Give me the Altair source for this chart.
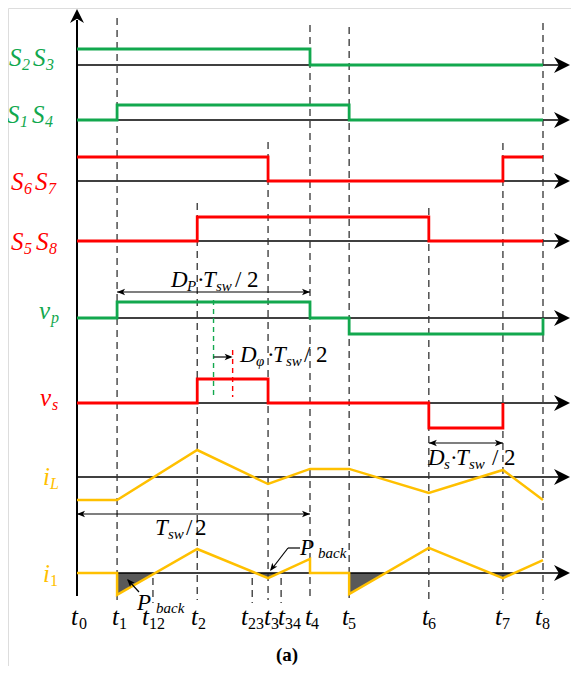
import altair as alt
import pandas as pd

# ---------------- data ----------------
TIME_NAMES = ["t0", "t1", "t12", "t2", "t23", "t3", "t34", "t4", "t5", "t6", "t7", "t8"]
TIME_VALUES = [0.0, 8.6, 16.3, 25.8, 37.6, 41.0, 43.8, 50.0, 58.4, 75.5, 91.4, 100.0]  # % of Tsw
TIME_SUBS = ["0", "1", "12", "2", "23", "3", "34", "4", "5", "6", "7", "8"]

S23_T = ["t0", "t4", "t8"]
S23_LEVEL = [1, 0, 0]
S14_T = ["t0", "t1", "t5", "t8"]
S14_LEVEL = [0, 1, 0, 0]
S67_T = ["t0", "t3", "t7", "t8"]
S67_LEVEL = [1, 0, 1, 1]
S58_T = ["t0", "t2", "t6", "t8"]
S58_LEVEL = [0, 1, 0, 0]
VP_T = ["t0", "t1", "t4", "t5", "t8", "t8"]
VP_LEVEL = [0, 1, 0, -1, -1, 0]
VS_T = ["t0", "t2", "t3", "t6", "t7"]
VS_LEVEL = [0, 1, 0, -1, 0]

IL_T = ["t0", "t1", "t2", "t3", "t4", "t5", "t6", "t7", "t8"]
IL_VALUE = [-0.85, -0.85, 1.00, -0.26, 0.30, 0.30, -0.59, 0.26, -0.85]
I1_T = ["t0", "t1", "t1", "t2", "t3", "t4", "t4", "t5", "t5", "t6", "t7", "t8"]
I1_VALUE = [0, 0, -0.81, 0.89, -0.19, 0.52, 0, 0, -0.78, 0.93, -0.19, 0.48]

# back-flow (P_back) regions of i1
BACK_T = [[8.6, 16.8], [38.3, 41.0, 43.4], [58.4, 66.2], [88.7, 91.4, 93.8]]
BACK_V = [[-0.81, 0], [0, -0.19, 0], [-0.78, 0], [0, -0.19, 0]]

ROW_LABELS = [("S", "2", "S", "3"), ("S", "1", "S", "4"), ("S", "6", "S", "7"), ("S", "5", "S", "8")]

# ---------------- style / layout ----------------
GREEN = "#12A84E"
RED = "#FF0000"
ORANGE = "#FFC000"
INK = "#000000"
DASHC = "#333333"
FONT = "'Liberation Serif', 'Times New Roman', 'DejaVu Serif', serif"

PX0 = 77.0
PX_PER_T = 4.66


def px2t(px):
    return (px - PX0) / PX_PER_T


def tv(name):
    return TIME_VALUES[TIME_NAMES.index(name)]


X_DOMAIN = [px2t(8), px2t(571)]
W, H = 563, 658

ROWS = {
    "S23": dict(base=65, up=16, dn=16, color=GREEN),
    "S14": dict(base=120, up=15, dn=15, color=GREEN),
    "S67": dict(base=181, up=24, dn=24, color=RED),
    "S58": dict(base=241, up=24, dn=24, color=RED),
    "VP": dict(base=318, up=16, dn=16, color=GREEN),
    "VS": dict(base=403, up=24, dn=25, color=RED),
    "IL": dict(base=477, gain=27, color=ORANGE),
    "I1": dict(base=573, gain=27, color=ORANGE),
}

xs = alt.Scale(domain=X_DOMAIN, range=[0, W], zero=False, nice=False)
ys = alt.Scale(domain=[8, 8 + H], range=[0, H], zero=False, nice=False)


def X(f="t"):
    return alt.X(f + ":Q", scale=xs, axis=None)


def Y(f="y"):
    return alt.Y(f + ":Q", scale=ys, axis=None)


# ---- signals ----
sig = []
for key, names, levels in [("S23", S23_T, S23_LEVEL), ("S14", S14_T, S14_LEVEL),
                           ("S67", S67_T, S67_LEVEL), ("S58", S58_T, S58_LEVEL),
                           ("VP", VP_T, VP_LEVEL), ("VS", VS_T, VS_LEVEL)]:
    r = ROWS[key]
    for i, (n, l) in enumerate(zip(names, levels)):
        y = r["base"] - l * (r["up"] if l > 0 else r["dn"])
        sig.append(dict(series=key, idx=i, t=tv(n), y=y, color=r["color"]))
sig_df = pd.DataFrame(sig)

cur = []
for key, names, vals in [("IL", IL_T, IL_VALUE), ("I1", I1_T, I1_VALUE)]:
    r = ROWS[key]
    for i, (n, v) in enumerate(zip(names, vals)):
        cur.append(dict(series=key, idx=i, t=tv(n), y=r["base"] - v * r["gain"]))
cur_df = pd.DataFrame(cur)

shade = []
for s, (ts, vs) in enumerate(zip(BACK_T, BACK_V)):
    for t, v in zip(ts, vs):
        shade.append(dict(seg=s, t=t, y=ROWS["I1"]["base"] - v * ROWS["I1"]["gain"],
                          y0=ROWS["I1"]["base"]))
shade_df = pd.DataFrame(shade)

# baselines
base_df = pd.DataFrame([dict(t=0.0, t2=px2t(562), y=r["base"]) for r in ROWS.values()])
head_df = pd.DataFrame([dict(t=px2t(570), y=r["base"], angle=0) for r in ROWS.values()])
vhead_df = pd.DataFrame([dict(t=0.0, y=9, angle=270)])
vaxis_df = pd.DataFrame([dict(t=0.0, y=20, y2=596)])

# dashed instants
DASH_TOP = {"t1": 18, "t2": 203, "t3": 142, "t4": 25, "t5": 27, "t6": 208, "t7": 143, "t8": 23}
dash = [dict(t=tv(n), y=top, y2=600) for n, top in DASH_TOP.items()]
dash += [dict(t=tv(n), y=578, y2=603) for n in ["t12", "t23", "t34"]]
dash_df = pd.DataFrame(dash)

mid_p = (tv("t1") + tv("t4")) / 2
mid_s = (tv("t2") + tv("t3")) / 2
cdash_df = pd.DataFrame([dict(t=mid_p, y=300, y2=397, color=GREEN),
                         dict(t=mid_s, y=350, y2=397, color=RED)])

# annotation lines
ann = [
    dict(t=tv("t1"), t2=tv("t4"), y=292, y2=292),
    dict(t=tv("t0"), t2=tv("t4"), y=514, y2=514),
    dict(t=tv("t6"), t2=tv("t7"), y=443, y2=443),
    dict(t=mid_p, t2=mid_s - px2t(PX0 + 2), y=357, y2=357),
    dict(t=px2t(139), t2=px2t(128), y=592, y2=580),
    dict(t=px2t(300), t2=px2t(288), y=548, y2=548),
    dict(t=px2t(288), t2=px2t(271), y=548, y2=570),
]
ann_df = pd.DataFrame(ann)

small = [
    dict(t=tv("t1"), y=292, angle=180), dict(t=tv("t4"), y=292, angle=0),
    dict(t=tv("t0"), y=514, angle=180), dict(t=tv("t4"), y=514, angle=0),
    dict(t=tv("t6"), y=443, angle=180), dict(t=tv("t7"), y=443, angle=0),
    dict(t=mid_s, y=357, angle=0),
    dict(t=px2t(127), y=579, angle=227),
    dict(t=px2t(270), y=571, angle=127),
]
small_df = pd.DataFrame(small)

# ---- text pieces (text, x_px, baseline_px, size, style, weight, color) ----
txt = []
row_pos = [(66, 9, 22, 33, 46, GREEN), (123, 7, 20, 32, 45, GREEN),
           (190, 11, 24, 35, 48, RED), (250, 11, 24, 36, 49, RED)]
for (a, b, c, d), (yb, x1, x2, x3, x4, col) in zip(ROW_LABELS, row_pos):
    txt += [(a, x1, yb, 25, "italic", "normal", col), (b, x2, yb + 4, 16, "italic", "normal", col),
            (c, x3, yb, 25, "italic", "normal", col), (d, x4, yb + 4, 16, "italic", "normal", col)]
txt += [("v", 39, 319, 25, "italic", "normal", GREEN), ("p", 51, 323, 16, "italic", "normal", GREEN),
        ("v", 40, 406, 25, "italic", "normal", RED), ("s", 52, 410, 16, "italic", "normal", RED),
        ("i", 43, 485, 25, "italic", "normal", ORANGE), ("L", 50, 489, 16, "italic", "normal", ORANGE),
        ("i", 43, 582, 25, "italic", "normal", ORANGE), ("1", 50, 586, 16, "normal", "normal", ORANGE)]
T_LABEL_X = {"t0": (71, 79), "t1": (112, 119), "t12": (142, 149), "t2": (191, 198),
             "t23": (241, 248), "t3": (264, 271), "t34": (278, 285), "t4": (305, 311),
             "t5": (342, 348), "t6": (422, 428), "t7": (495, 502), "t8": (535, 542)}
for n, sub in zip(TIME_NAMES, TIME_SUBS):
    xt, xsb = T_LABEL_X[n]
    txt += [("t", xt, 625, 25, "italic", "normal", INK), (sub, xsb, 629, 16, "normal", "normal", INK)]


def frac(psub, x0, yb, dot_dx):
    return [("D", x0, yb, 23, "italic", "normal", INK),
            (psub, x0 + 16, yb + 4, 15, "italic", "normal", INK),
            ("·", x0 + dot_dx, yb, 23, "normal", "normal", INK),
            ("T", x0 + dot_dx + 6, yb, 23, "italic", "normal", INK),
            ("sw", x0 + dot_dx + 19, yb + 4, 15, "italic", "normal", INK),
            ("/", x0 + 64, yb, 23, "normal", "normal", INK),
            ("2", x0 + 76, yb, 23, "normal", "normal", INK)]


txt += frac("P", 171, 287, 26)
txt += frac("φ", 240, 362, 27)
txt += frac("s", 428, 465, 22)
txt += [("T", 155, 535, 23, "italic", "normal", INK), ("sw", 168, 539, 15, "italic", "normal", INK),
        ("/", 186, 535, 23, "normal", "normal", INK), ("2", 195, 535, 23, "normal", "normal", INK)]
txt += [("P", 137, 610, 23, "italic", "normal", INK), ("back", 156, 613, 15, "italic", "normal", INK),
        ("P", 300, 555, 23, "italic", "normal", INK), ("back", 318, 558, 15, "italic", "normal", INK)]
txt += [("(a)", 276, 661, 19, "normal", "bold", INK)]

txt_df = pd.DataFrame(txt, columns=["text", "px", "y", "size", "style", "weight", "color"])
txt_df["t"] = txt_df["px"].apply(px2t)

# ---------------- chart ----------------
ARROW_BIG = "M0,0L-2,-1L-1.4,0L-2,1Z"
ARROW_SMALL = "M0,0L-2,-0.8L-1.5,0L-2,0.8Z"

layers = []
layers.append(alt.Chart(shade_df).mark_area(color="#595959", opacity=1).encode(
    x=X(), y=Y(), y2=alt.Y2("y0:Q"), detail="seg:N"))
layers.append(alt.Chart(base_df).mark_rule(color=INK, strokeWidth=1.5).encode(
    x=X(), x2=alt.X2("t2:Q"), y=Y()))
layers.append(alt.Chart(vaxis_df).mark_rule(color=INK, strokeWidth=2).encode(
    x=X(), y=Y(), y2=alt.Y2("y2:Q")))
layers.append(alt.Chart(head_df).mark_point(shape=ARROW_BIG, filled=True, color=INK, opacity=1,
                                            size=256, strokeWidth=0).encode(
    x=X(), y=Y(), angle=alt.Angle("angle:Q", scale=None)))
layers.append(alt.Chart(vhead_df).mark_point(shape=ARROW_BIG, filled=True, color=INK, opacity=1,
                                             size=196, strokeWidth=0).encode(
    x=X(), y=Y(), angle=alt.Angle("angle:Q", scale=None)))
layers.append(alt.Chart(dash_df).mark_rule(color=DASHC, strokeWidth=1.3, strokeDash=[7, 5]).encode(
    x=X(), y=Y(), y2=alt.Y2("y2:Q")))
layers.append(alt.Chart(cdash_df).mark_rule(strokeWidth=1.4, strokeDash=[5, 4]).encode(
    x=X(), y=Y(), y2=alt.Y2("y2:Q"), color=alt.Color("color:N", scale=None)))
layers.append(alt.Chart(sig_df).mark_line(interpolate="step-after", strokeWidth=2.8,
                                          strokeJoin="miter").encode(
    x=X(), y=Y(), color=alt.Color("color:N", scale=None), detail="series:N", order="idx:Q"))
layers.append(alt.Chart(cur_df).mark_line(color=ORANGE, strokeWidth=2.5).encode(
    x=X(), y=Y(), detail="series:N", order="idx:Q"))
layers.append(alt.Chart(ann_df).mark_rule(color=INK, strokeWidth=1.2).encode(
    x=X(), x2=alt.X2("t2:Q"), y=Y(), y2=alt.Y2("y2:Q")))
layers.append(alt.Chart(small_df).mark_point(shape=ARROW_SMALL, filled=True, color=INK, opacity=1,
                                             size=64, strokeWidth=0).encode(
    x=X(), y=Y(), angle=alt.Angle("angle:Q", scale=None)))
for (style, weight), sub in txt_df.groupby(["style", "weight"]):
    layers.append(alt.Chart(sub).mark_text(font=FONT, fontStyle=style, fontWeight=weight,
                                           align="left", baseline="alphabetic").encode(
        x=X(), y=Y(), text="text:N", size=alt.Size("size:Q", scale=None),
        color=alt.Color("color:N", scale=None)))

chart = alt.layer(*layers).properties(
    width=W, height=H, padding=0, autosize=alt.AutoSizeParams(type="none")
).configure_view(stroke=None).configure(background="white")

chart.save("out.html", embed_options={"renderer": "svg", "actions": False})
